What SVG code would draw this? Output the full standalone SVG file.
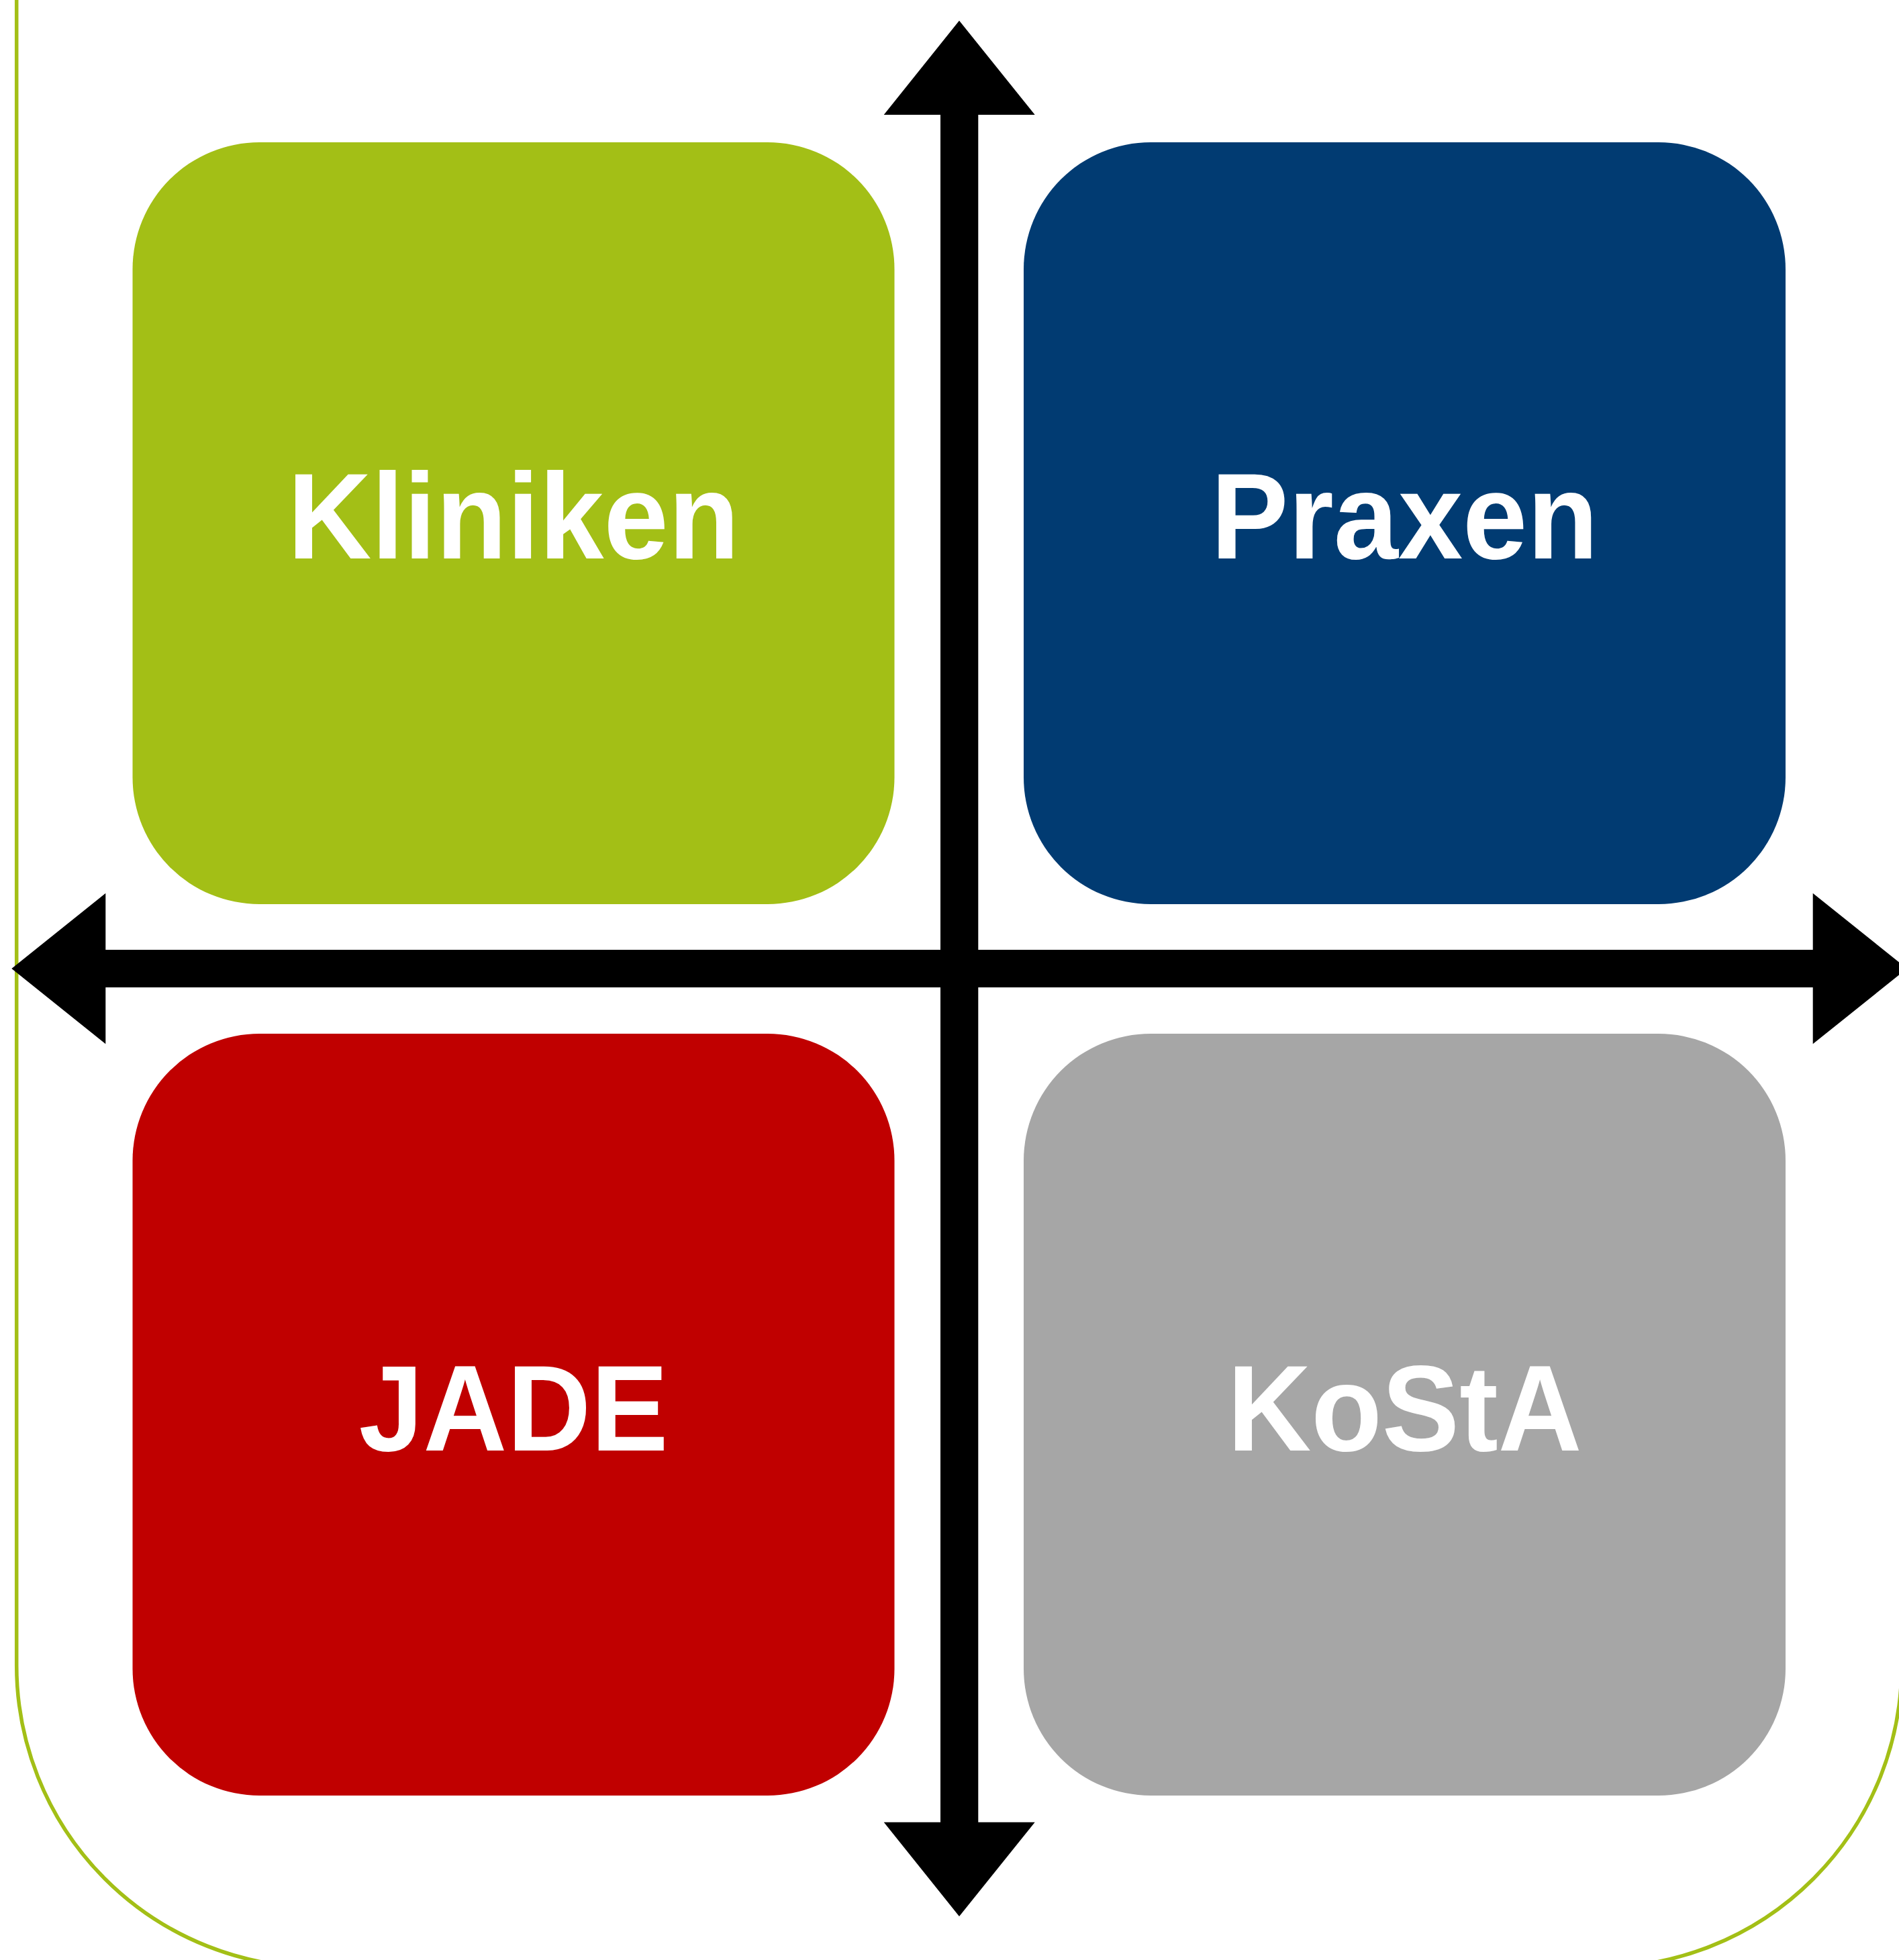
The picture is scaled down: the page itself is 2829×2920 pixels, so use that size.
<svg xmlns="http://www.w3.org/2000/svg" width="2829" height="2920" viewBox="0 0 2829 2920">
<style>
.lbl{font-family:"Liberation Sans",Arial,sans-serif;font-weight:bold;font-size:182px;fill:#ffffff;text-anchor:middle}
.arrow{fill:#000000}
</style>
<rect x="0" y="0" width="2829" height="2920" fill="#ffffff"/>
<rect id="frame" x="24.7" y="-600" width="2808.3" height="3531" rx="450" ry="450" fill="none" stroke="#A3BF16" stroke-width="5.5"/>
<g id="kliniken">
<rect x="197.5" y="212" width="1135" height="1135" rx="189" ry="189" fill="#A3BF16"/>
<text class="lbl" x="765" y="832" textLength="673" lengthAdjust="spacingAndGlyphs">Kliniken</text>
</g>
<g id="praxen">
<rect x="1525" y="212" width="1135" height="1135" rx="189" ry="189" fill="#013B72"/>
<text class="lbl" x="2092.5" y="832" textLength="577" lengthAdjust="spacingAndGlyphs">Praxen</text>
</g>
<g id="jade">
<rect x="197.5" y="1540" width="1135" height="1135" rx="189" ry="189" fill="#C00000"/>
<text class="lbl" x="765" y="2161" textLength="461" lengthAdjust="spacingAndGlyphs">JADE</text>
</g>
<g id="kosta">
<rect x="1525" y="1540" width="1135" height="1135" rx="189" ry="189" fill="#A6A6A6"/>
<text class="lbl" x="2092.5" y="2161" textLength="528" lengthAdjust="spacingAndGlyphs">KoStA</text>
</g>
<g id="connectors">
<polygon class="arrow" points="1429,30.7 1541.7,171 1457.3,171 1457.3,2714.7 1541.7,2714.7 1429,2855 1316.7,2714.7 1401,2714.7 1401,171 1316.7,171"/>
<polygon class="arrow" points="17.3,1443 157.3,1330.7 157.3,1415 2700.7,1415 2700.7,1330.7 2841,1443 2700.7,1555.3 2700.7,1471 157.3,1471 157.3,1555.3"/>
</g>
</svg>
